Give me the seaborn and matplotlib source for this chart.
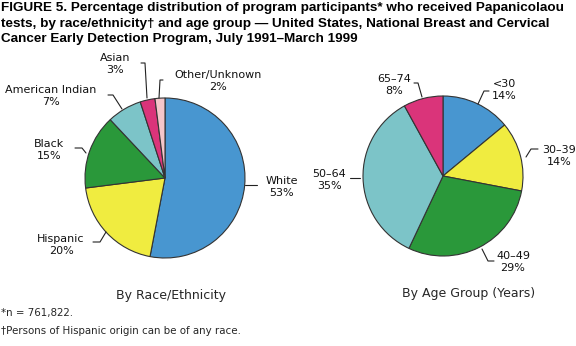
import matplotlib
matplotlib.use("Agg")
import matplotlib.pyplot as plt
import seaborn as sns

# ---- data ----
race_labels = ["White", "Hispanic", "Black", "American Indian", "Asian", "Other/Unknown"]
race_values = [53, 20, 15, 7, 3, 2]
age_labels = ["<30", "30\u201339", "40\u201349", "50\u201364", "65\u201374"]
age_values = [14, 14, 29, 35, 8]

race_colors = ["#4896D0", "#F0EC40", "#2A983A", "#7CC4C8", "#DA347A", "#F4C6CA"]
age_colors = ["#4896D0", "#F0EC40", "#2A983A", "#7CC4C8", "#DA347A"]

# ---- layout (pixel coordinates, y measured from top) ----
W, H = 576, 346
race_center, race_radius = (165, 178), 80
age_center, age_radius = (443, 176), 80

race_label_pos = [(282, 187), (61, 245), (49, 150), (51, 96), (115, 64), (218, 81)]
age_label_pos = [(504, 90), (559, 156), (513, 262), (329, 180), (394, 85)]

race_leaders = [
    [(257, 185), (245, 185)],
    [(93, 242), (100, 242), (106, 232)],
    [(75, 148), (82, 148), (86, 153)],
    [(108, 95), (113, 95), (122, 109)],
    [(141, 63), (145, 63), (147, 98)],
    [(163, 80), (160, 80), (159, 98)],
]
age_leaders = [
    [(489, 91), (484, 91), (478, 104)],
    [(538, 149), (531, 149), (526, 157)],
    [(494, 261), (488, 261), (482, 249)],
    [(350, 178), (360, 178)],
    [(414, 83), (418, 83), (422, 97)],
]

sns.set_theme(style="white")
plt.rcParams["font.family"] = ["DejaVu Sans"]

fig = plt.figure(figsize=(W / 100, H / 100), dpi=100)
ax = fig.add_axes([0, 0, 1, 1])

def fy(y):
    return H - y

wedge_kw = dict(edgecolor="#333333", linewidth=0.8)

ax.pie(race_values, colors=race_colors, startangle=90, counterclock=False,
       center=(race_center[0], fy(race_center[1])), radius=race_radius,
       wedgeprops=wedge_kw, frame=True)
ax.pie(age_values, colors=age_colors, startangle=90, counterclock=False,
       center=(age_center[0], fy(age_center[1])), radius=age_radius,
       wedgeprops=wedge_kw, frame=True)
ax.set_xlim(0, W)
ax.set_ylim(0, H)
ax.set_aspect("equal")
ax.axis("off")

lab_kw = dict(ha="center", va="center", fontsize=8, color="#111111", linespacing=1.35)
for lab, val, (x, y) in zip(race_labels, race_values, race_label_pos):
    ax.text(x, fy(y), f"{lab}\n{val}%", **lab_kw)
for lab, val, (x, y) in zip(age_labels, age_values, age_label_pos):
    ax.text(x, fy(y), f"{lab}\n{val}%", **lab_kw)

for line in race_leaders + age_leaders:
    xs = [p[0] for p in line]
    ys = [fy(p[1]) for p in line]
    ax.plot(xs, ys, color="#222222", linewidth=0.8)

# title
title_lines = [
    "FIGURE 5. Percentage distribution of program participants* who received Papanicolaou",
    "tests, by race/ethnicity\u2020 and age group \u2014 United States, National Breast and Cervical",
    "Cancer Early Detection Program, July 1991\u2013March 1999",
]
for i, t in enumerate(title_lines):
    ax.text(1, fy(11 + 15.5 * i), t, ha="left", va="baseline", fontsize=9.7,
            fontweight="bold", family=["Liberation Sans", "DejaVu Sans"],
            color="#000000")

ax.text(171, fy(295), "By Race/Ethnicity", ha="center", va="center", fontsize=9)
ax.text(469, fy(294), "By Age Group (Years)", ha="center", va="center", fontsize=9)

ax.text(1, fy(313), "*n = 761,822.", ha="left", va="center", fontsize=7.4)
ax.text(1, fy(331), "\u2020Persons of Hispanic origin can be of any race.", ha="left",
        va="center", fontsize=7.4)

fig.savefig("out.png", dpi=100)
